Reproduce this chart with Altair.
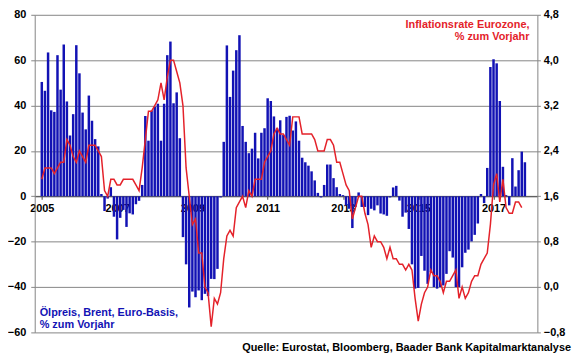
import altair as alt
import pandas as pd

# Ölpreis Brent, Euro-Basis, % zum Vorjahr (monthly, Jan 2005 - Nov 2017)
oil = [
    50.4, 46.5, 63.4, 37.9, 37.2, 62.2, 47.0, 66.9, 41.8, 26.8, 36.2, 66.6,   # 2005
    54.2, 36.9, 29.5, 44.4, 33.3, 25.2, 22.0, 1.0, -6.5, -1.0, 4.0, -9.0,     # 2006
    -19.0, -9.5, -6.0, -13.5, -7.5, -8.0, -3.5, -2.0, 5.0, 35.4, 24.5, 37.7,  # 2007
    39.5, 40.8, 24.5, 40.8, 62.2, 68.2, 41.0, 45.8, 25.6, -18.0, -30.0, -49.0,  # 2008
    -42.0, -44.5, -41.5, -45.8, -43.0, -44.0, -36.4, -36.5, -32.0, -0.5, 24.0, 66.5,  # 2009
    43.8, 55.4, 64.4, 71.0, 31.0, 24.0, 19.0, 21.0, 28.0, 16.7, 28.0, 30.0,   # 2010
    43.2, 42.0, 35.2, 30.0, 33.5, 27.0, 35.0, 35.5, 29.0, 33.0, 24.5, 17.0,   # 2011
    15.0, 13.5, 11.0, 7.0, 1.5, -0.5, 5.0, 14.0, 14.0, 8.0, 4.0, 1.0,         # 2012
    0.5, -4.0, -5.5, -14.0, -4.7, 1.7, -4.7, -4.7, -8.3, -5.5, -6.2, -4.0,    # 2013
    -7.6, -8.0, -8.6, -0.5, 3.9, 4.6, -1.9, -9.0, -7.2, -14.4, -30.0, -40.7,  # 2014
    -40.4, -26.3, -32.8, -38.6, -33.5, -40.0, -40.7, -40.0, -39.3, -34.2, -24.2, -27.0,  # 2015
    -40.0, -40.0, -31.3, -24.9, -23.5, -19.9, -17.0, -12.0, 1.0, -3.0, 12.5, 57.0,  # 2016
    60.4, 58.6, 42.0, 13.0, 0.5, -4.0, 16.8, 4.3, 11.5, 19.7, 15.0,           # 2017
]

# Inflationsrate Eurozone, % zum Vorjahr (monthly, Jan 2005 - Oct 2017)
inflation = [
    1.9, 2.1, 2.1, 2.1, 2.0, 2.1, 2.2, 2.2, 2.6, 2.5, 2.3, 2.2,
    2.4, 2.3, 2.2, 2.5, 2.5, 2.5, 2.4, 2.3, 1.7, 1.6, 1.9, 1.9,
    1.8, 1.8, 1.9, 1.9, 1.9, 1.9, 1.8, 1.7, 2.1, 2.6, 3.1, 3.1,
    3.2, 3.3, 3.6, 3.3, 3.7, 4.0, 4.0, 3.8, 3.6, 3.2, 2.1, 1.6,
    1.1, 1.2, 0.6, 0.6, 0.0, -0.1, -0.7, -0.2, -0.3, -0.1, 0.5, 0.9,
    1.0, 0.9, 1.4, 1.5, 1.6, 1.4, 1.7, 1.6, 1.9, 1.9, 1.9, 2.2,
    2.3, 2.4, 2.7, 2.8, 2.7, 2.7, 2.6, 2.5, 3.0, 3.0, 3.0, 2.7,
    2.7, 2.7, 2.7, 2.6, 2.4, 2.4, 2.4, 2.6, 2.6, 2.5, 2.2, 2.2,
    2.0, 1.8, 1.7, 1.2, 1.4, 1.6, 1.6, 1.3, 1.1, 0.7, 0.9, 0.8,
    0.8, 0.7, 0.5, 0.7, 0.5, 0.5, 0.4, 0.4, 0.3, 0.4, 0.3, -0.2,
    -0.6, -0.3, -0.1, 0.0, 0.3, 0.2, 0.2, 0.1, -0.1, 0.1, 0.1, 0.2,
    0.3, -0.2, 0.0, -0.2, -0.1, 0.1, 0.2, 0.2, 0.4, 0.5, 0.6, 1.1,
    1.8, 2.0, 1.5, 1.9, 1.4, 1.3, 1.3, 1.5, 1.5, 1.4,
]

start_year = 2005
year_ticks = [0, 24, 48, 72, 96, 120, 144]          # Jan of 2005, 2007, ... 2017
left_ticks = [-60, -40, -20, 0, 20, 40, 60, 80]
right_ticks = [-0.8, 0.0, 0.8, 1.6, 2.4, 3.2, 4.0, 4.8]

red_title = ["Inflationsrate Eurozone,", "% zum Vorjahr"]
blue_title = ["Ölpreis, Brent, Euro-Basis,", "% zum Vorjahr"]
source = "Quelle: Eurostat, Bloomberg, Baader Bank Kapitalmarktanalyse"

FONT = "Liberation Sans"
BLUE = "#1212B4"
RED = "#E4222A"
GRID = "#858585"

W, H = 508, 321

df_oil = pd.DataFrame({"m": range(len(oil)), "oil": oil})
df_inf = pd.DataFrame({"m": range(len(inflation)), "infl": inflation})

xscale = alt.Scale(domain=[-0.68, 156.4], nice=False, zero=False)
zero_px = H * (80 / 140)
xaxis = alt.Axis(
    values=year_ticks,
    labelExpr=f"format({start_year} + datum.value / 12, 'd')",
    offset=-(H - zero_px),
    title=None,
    grid=False,
    domainColor="#4a4a4a",
    tickColor="#4a4a4a",
    tickSize=3,
    labelPadding=3,
    labelFont=FONT,
    labelFontSize=11,
    labelFontWeight="bold",
    labelColor="black",
    labelOverlap=False,
)

bars = alt.Chart(df_oil).mark_bar(size=2.5, color=BLUE).encode(
    x=alt.X("m:Q", scale=xscale, axis=xaxis),
    y=alt.Y(
        "oil:Q",
        scale=alt.Scale(domain=[-60, 80], nice=False),
        axis=alt.Axis(
            values=left_ticks,
            title=None,
            grid=True,
            gridColor=GRID,
            gridWidth=1,
            domainColor=GRID,
            tickColor=GRID,
            tickSize=4,
            labelPadding=5,
            labelFont=FONT,
            labelFontSize=11,
            labelFontWeight="bold",
            labelColor="black",
        ),
    ),
)

line = alt.Chart(df_inf).mark_line(color=RED, strokeWidth=1.5).encode(
    x=alt.X("m:Q", scale=xscale, axis=xaxis),
    y=alt.Y(
        "infl:Q",
        scale=alt.Scale(domain=[-0.8, 4.8], nice=False, zero=False),
        axis=alt.Axis(
            orient="right",
            values=right_ticks,
            labelExpr="replace(format(datum.value, '.1f'), '.', ',')",
            title=None,
            grid=False,
            domainColor=GRID,
            tickColor=GRID,
            tickSize=3,
            labelPadding=3,
            labelFont=FONT,
            labelFontSize=11,
            labelFontWeight="bold",
            labelColor="black",
        ),
    ),
)

one = pd.DataFrame({"k": [0]})
red_txt = alt.Chart(one).mark_text(
    text=red_title, align="right", baseline="top", font=FONT, fontSize=11,
    fontWeight="bold", color=RED, lineHeight=12,
).encode(x=alt.value(500), y=alt.value(4))

blue_txt = alt.Chart(one).mark_text(
    text=blue_title, align="left", baseline="top", font=FONT, fontSize=11,
    fontWeight="bold", color=BLUE, lineHeight=12.3,
).encode(x=alt.value(5), y=alt.value(295))

src_txt = alt.Chart(one).mark_text(
    text=source, align="right", baseline="middle", font=FONT, fontSize=11,
    fontWeight="bold", color="black",
).encode(x=alt.value(542), y=alt.value(337))

chart = (
    alt.layer(bars, line, red_txt, blue_txt, src_txt)
    .resolve_scale(y="independent")
    .properties(
        width=W,
        height=H,
        autosize=alt.AutoSizeParams(type="none"),
        padding={"left": 27, "top": 5, "right": 35, "bottom": 24},
        background="white",
    )
    .configure_view(strokeWidth=0)
)

chart.save("out.html", embed_options={"renderer": "svg", "actions": False})
